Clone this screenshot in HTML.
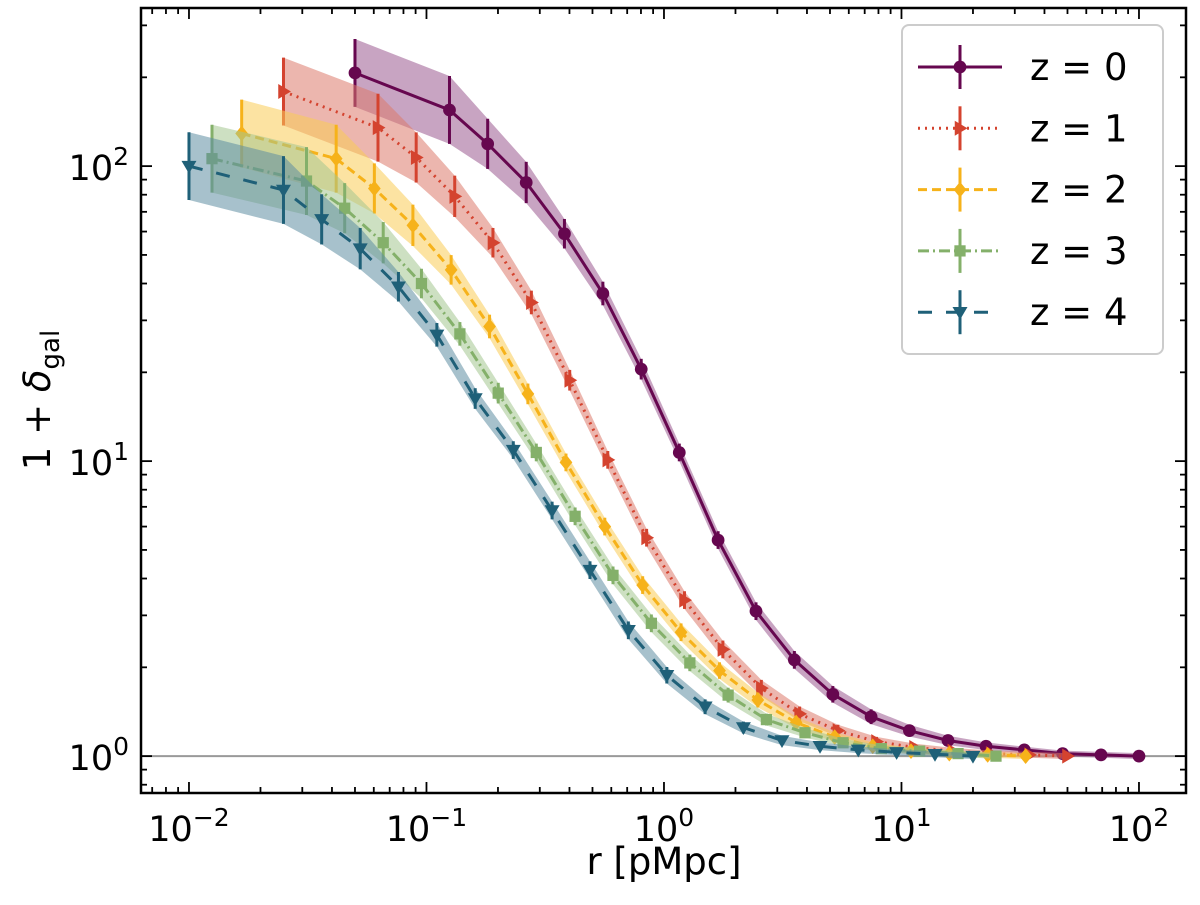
<!DOCTYPE html>
<html><head><meta charset="utf-8"><style>
html,body{margin:0;padding:0;background:#fff;}
svg{display:block;font-family:"DejaVu Sans","Liberation Sans",sans-serif;}
</style></head><body>
<svg id="chart" width="1200" height="905" viewBox="0 0 1200 905" xmlns="http://www.w3.org/2000/svg"></svg>
<script>
const rBase = [0.05,0.125,0.181,0.263,0.381,0.553,0.802,1.16,1.69,2.44,3.54,5.14,7.45,10.8,15.7,22.7,32.9,47.7,69.2,100];
const redshifts = [0,1,2,3,4];
const valsZ0 = [207,155,119,88,59,37,20.5,10.7,5.4,3.1,2.12,1.62,1.36,1.22,1.13,1.08,1.05,1.02,1.01,1.0];
const valsZ1 = [179,135,107,79,55,34.5,18.8,10.1,5.5,3.38,2.3,1.7,1.39,1.22,1.12,1.07,1.04,1.02,1.01,1.0];
const valsZ2 = [129,106,84,63,44.5,28.6,16.9,9.9,6.0,3.8,2.63,1.95,1.55,1.30,1.16,1.08,1.04,1.02,1.01,1.0];
const valsZ3 = [106,89,72,55,40,27,17,10.7,6.5,4.1,2.82,2.07,1.61,1.33,1.2,1.11,1.06,1.04,1.02,1.0];
const valsZ4 = [100,83,66,52.5,39,26.8,16.3,10.9,6.8,4.27,2.67,1.88,1.47,1.25,1.13,1.08,1.05,1.03,1.015,1.0];
const errDex = [0.115,0.115,0.085,0.07,0.05,0.04,0.035,0.03,0.03,0.03,0.03,0.028,0.025,0.02,0.016,0.013,0.011,0.01,0.01,0.01];
const xTickLabels = ["−2","−1","0","1","2"];
const yTickLabels = ["0","1","2"];

const NS="http://www.w3.org/2000/svg";
const svg=document.getElementById('chart');
const L=141,R=1186,T=8,B=793;
const xmin=-2.202,xmax=2.198,ymin=-0.125,ymax=2.536;
const X=v=>L+(Math.log10(v)-xmin)/(xmax-xmin)*(R-L);
const Y=v=>B-(Math.log10(v)-ymin)/(ymax-ymin)*(B-T);
function el(tag,attrs,parent){const e=document.createElementNS(NS,tag);for(const k in attrs)e.setAttribute(k,attrs[k]);(parent||svg).appendChild(e);return e;}

const series=[
 {vals:valsZ0,line:'#66074f',band:'#9b5a8f',dash:'',marker:'circle'},
 {vals:valsZ1,line:'#d4432f',band:'#dc7a6b',dash:'2,5',marker:'tri-right'},
 {vals:valsZ2,line:'#f6b21a',band:'#f9cc55',dash:'9,5',marker:'diamond'},
 {vals:valsZ3,line:'#84b06a',band:'#a4c690',dash:'11,4,2,4',marker:'square'},
 {vals:valsZ4,line:'#1f6078',band:'#5f8ea3',dash:'14,14',marker:'tri-down'}
];

const ref=el('line',{x1:L,x2:R,y1:Y(1),y2:Y(1),stroke:'#999',"stroke-width":2});



function marker(g,type,cx,cy,color,s){
  let m;
  if(type==='circle') m=el('circle',{cx,cy,r:s*0.85,fill:color},g);
  else if(type==='tri-right') m=el('polygon',{points:`${cx+s},${cy} ${cx-s*0.7},${cy-s} ${cx-s*0.7},${cy+s}`,fill:color},g);
  else if(type==='diamond') m=el('polygon',{points:`${cx},${cy-s*1.05} ${cx+s*0.85},${cy} ${cx},${cy+s*1.05} ${cx-s*0.85},${cy}`,fill:color},g);
  else if(type==='square') m=el('rect',{x:cx-s*0.75,y:cy-s*0.75,width:s*1.5,height:s*1.5,fill:color},g);
  else m=el('polygon',{points:`${cx},${cy+s} ${cx-s},${cy-s*0.7} ${cx+s},${cy-s*0.7}`,fill:color},g);
  return m;
}

series.forEach((s,si)=>{
  const z=redshifts[si];
  const xs=rBase.map(r=>r/(1+z));
  const g=el('g',{});
  
  
  const up=xs.map((x,i)=>`${X(x)},${Y(s.vals[i]*Math.pow(10,errDex[i]))}`);
  const lo=xs.map((x,i)=>`${X(x)},${Y(s.vals[i]/Math.pow(10,errDex[i]))}`).reverse();
  const band=el('polygon',{points:up.concat(lo).join(' '),fill:s.band,"fill-opacity":0.55},g);
  
  
  xs.forEach((x,i)=>{
    const eb=el('line',{x1:X(x),x2:X(x),y1:Y(s.vals[i]*Math.pow(10,errDex[i])),y2:Y(s.vals[i]/Math.pow(10,errDex[i])),stroke:s.line,"stroke-width":3},g);
    
    
  });
  const ln=el('polyline',{points:xs.map((x,i)=>`${X(x)},${Y(s.vals[i])}`).join(' '),fill:'none',stroke:s.line,"stroke-width":3,"stroke-dasharray":s.dash},g);
  
  
  xs.forEach((x,i)=>{
    const m=marker(g,s.marker,X(x),Y(s.vals[i]),s.line,7.5);
    
    
  });
});

const frame=el('rect',{x:L,y:T,width:R-L,height:B-T,fill:'none',stroke:'#000',"stroke-width":2.5});



const tg=el('g',{stroke:'#000',"stroke-width":1.8});


for(let d=-3;d<=2;d++){for(let k=1;k<10;k++){const v=k*Math.pow(10,d);const lv=Math.log10(v);
  if(lv>=xmin&&lv<=xmax){const x=X(v),len=k===1?11:6;
    el('line',{x1:x,x2:x,y1:B,y2:B-len},tg);el('line',{x1:x,x2:x,y1:T,y2:T+len},tg);}
  if(lv>=ymin&&lv<=ymax){const y=Y(v),len=k===1?11:6;
    el('line',{x1:L,x2:L+len,y1:y,y2:y},tg);el('line',{x1:R,x2:R-len,y1:y,y2:y},tg);}
}}
xTickLabels.forEach((lab,i)=>{
  const x=X(Math.pow(10,i-2));
  const t=el('text',{x:x,y:B+48,"font-size":35,"text-anchor":"middle",fill:'#000'});
  
  
  const a=el('tspan',{},t);a.textContent='10';
  const b=el('tspan',{dy:-15,"font-size":25},t);b.textContent=lab;
});
yTickLabels.forEach((lab,i)=>{
  const y=Y(Math.pow(10,i));
  const t=el('text',{x:L-12,y:y+14,"font-size":35,"text-anchor":"end",fill:'#000'});
  
  
  const a=el('tspan',{},t);a.textContent='10';
  const b=el('tspan',{dy:-15,"font-size":25},t);b.textContent=lab;
});
const xt=el('text',{x:664,y:874,"font-size":37,"text-anchor":"middle",fill:'#000'});
xt.textContent='r [pMpc]';


const yt=el('text',{transform:'translate(50,400) rotate(-90)',"font-size":37,"text-anchor":"middle",fill:'#000'});


const y1=el('tspan',{},yt);y1.textContent='1 + ';
const y2=el('tspan',{"font-style":"italic"},yt);y2.textContent='δ';
const y3=el('tspan',{dy:9,"font-size":26},yt);y3.textContent='gal';

const lg=el('g',{});


el('rect',{x:902,y:25,width:261,height:329,rx:7,fill:'#fff',"fill-opacity":0.85,stroke:'#ccc',"stroke-width":2},lg);
series.forEach((s,i)=>{
  const y=67+i*61.3;
  const e=el('g',{},lg);
  
  
  el('line',{x1:918,x2:1002,y1:y,y2:y,stroke:s.line,"stroke-width":3,"stroke-dasharray":s.dash},e);
  el('line',{x1:960,x2:960,y1:y-22,y2:y+22,stroke:s.line,"stroke-width":3},e);
  marker(e,s.marker,960,y,s.line,7.5);
  const t=el('text',{x:1030,y:y+13,"font-size":37,fill:'#000'},e);
  t.textContent='z = '+redshifts[i];
});
</script>
</body></html>
